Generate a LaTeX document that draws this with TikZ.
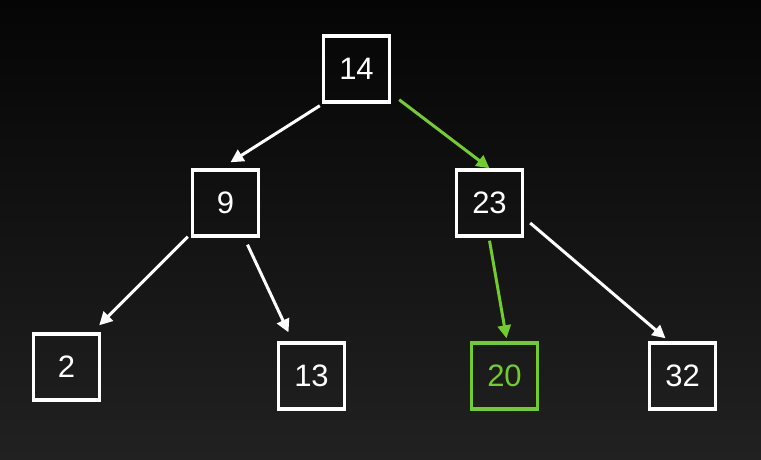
\documentclass[tikz,border=0pt]{standalone}
\usepackage{fontspec}
\setmainfont{Liberation Sans}
\usepackage{xcolor}
\usetikzlibrary{arrows.meta}
\definecolor{Ink}{HTML}{050505}
\definecolor{Floor}{HTML}{212121}
\definecolor{Bone}{HTML}{FFFFFF}
\definecolor{Lime}{HTML}{72CC2B}

\begin{document}
\begin{tikzpicture}[x=1pt,y=1pt,
  keybox/.style={draw=Bone,text=Bone,line width=3.4pt,minimum width=66pt,minimum height=66pt,inner sep=0pt,font=\fontsize{31}{34}\selectfont},
  hitbox/.style={keybox,draw=Lime,text=Lime},
  link/.style={-{Triangle[length=13pt,width=13pt]},Bone,line width=3pt},
  hitlink/.style={link,Lime}]
\shade[top color=Ink,bottom color=Floor] (0,0) rectangle (761,459);
\useasboundingbox (0,0) rectangle (761,459);
\node[keybox] (k14) at (356.5,390) {14};
\node[keybox] (k9) at (225.5,256) {9};
\node[keybox] (k23) at (489.5,256) {23};
\node[keybox] (k2) at (66.5,92) {2};
\node[keybox] (k13) at (311.5,83) {13};
\node[hitbox] (k20) at (504.5,83) {20};
\node[keybox] (k32) at (682.5,83) {32};
\draw[link] ([xshift=-2pt,yshift=-2pt]k14.south west)--([xshift=5pt,yshift=6pt]k9.north);
\draw[hitlink] ([xshift=8pt,yshift=4pt]k14.south east)--(k23.north);
\draw[link] ([xshift=-3pt,yshift=1pt]k9.south west)--([xshift=-2pt,yshift=7pt]k2.north east);
\draw[link] ([xshift=22pt,yshift=-7pt]k9.south)--([xshift=-23pt,yshift=9pt]k13.north);
\draw[hitlink] ([xshift=0pt,yshift=-3pt]k23.south)--([xshift=2pt,yshift=3pt]k20.north);
\draw[link] ([xshift=6pt,yshift=-20pt]k23.east)--([xshift=-17pt,yshift=3pt]k32.north);
\end{tikzpicture}
\end{document}
